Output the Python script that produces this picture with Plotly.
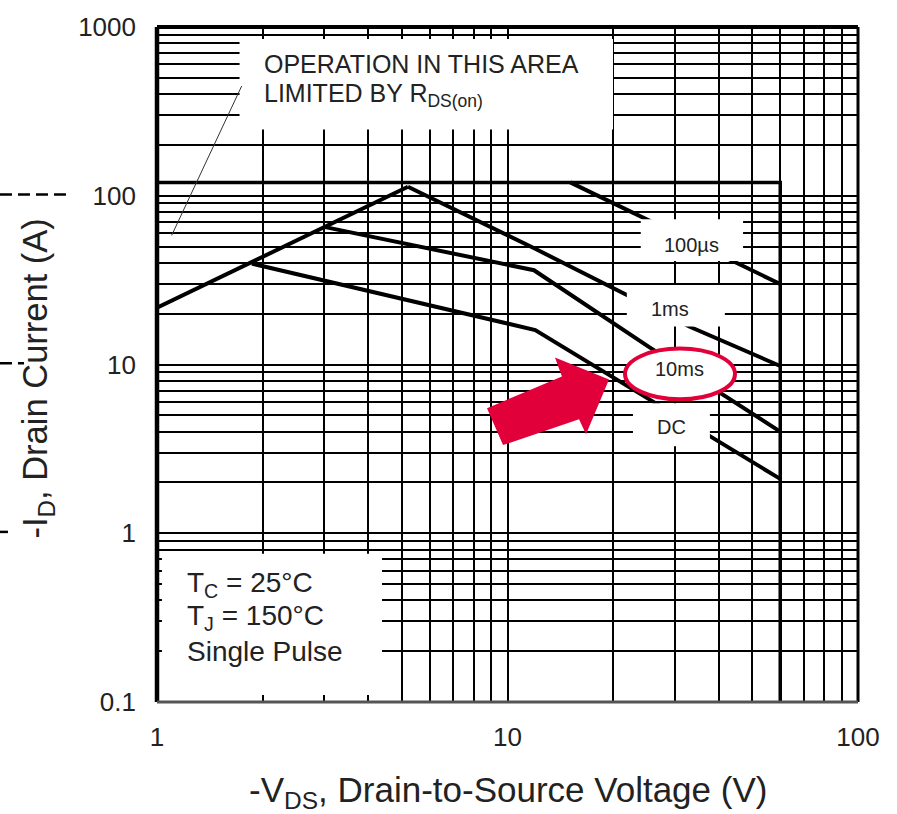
import math
import plotly.graph_objects as go

# ---- axis ticks -------------------------------------------------------
x_decades = [1, 10, 100]
y_decades = [0.1, 1, 10, 100, 1000]
x_labels = ["1", "10", "100"]
y_labels = ["0.1", "1", "10", "100", "1000"]

# ---- safe operating area boundaries (-VDS in V, -ID in A) ------------
limit_v = [1, 60, 60]          # package current limit + BVDSS
limit_i = [120, 120, 0.1]
rds_v = [1, 5.2]               # RDS(on) limited region
rds_i = [21.7, 113]
us100_v = [15.1, 60]
us100_i = [120, 30]
ms1_v = [5.2, 12, 33, 60]
ms1_i = [113, 48.5, 16.8, 9.8]
ms10_v = [3.02, 11.9, 25.5, 60]
ms10_i = [65.2, 36.2, 12.6, 4.0]
dc_v = [1.864, 12.0, 60]
dc_i = [39.6, 16.0, 2.1]

# highlight arrow pointing at the 10 ms curve
arrow_v = [8.74, 14.3, 13.66, 19.48, 16.75, 16.0, 9.71, 8.74]
arrow_i = [5.50, 8.50, 11.0, 8.16, 3.86, 4.74, 3.33, 5.50]

FONT = "Liberation Sans, Arial, sans-serif"
TXT = "#222222"
RED = "#E2003A"


def minor_ticks(decades):
    # 2..9 multiples inside every decade, for the fine log grid
    return [m * d for d in decades[:-1] for m in range(2, 10)]


fig = go.Figure()

curve = dict(color="black", width=4)
fig.add_trace(go.Scatter(x=limit_v, y=limit_i, mode="lines",
                         line=dict(color="black", width=3.5)))
for vx, iy in [(rds_v, rds_i), (us100_v, us100_i), (ms1_v, ms1_i),
               (ms10_v, ms10_i), (dc_v, dc_i)]:
    fig.add_trace(go.Scatter(x=vx, y=iy, mode="lines", line=curve))

fig.add_trace(go.Scatter(x=arrow_v, y=arrow_i, mode="lines", fill="toself",
                         fillcolor=RED, line=dict(width=0, color=RED)))

shapes = []


def white_box(x0, x1, y0, y1):
    shapes.append(dict(type="rect", xref="x", yref="y", x0=x0, x1=x1,
                       y0=y0, y1=y1, fillcolor="white",
                       line=dict(width=0), layer="above"))


# label boxes that mask the grid
white_box(1.72, 20.0, 247, 850)      # RDS(on) note
white_box(1.033, 4.385, 0.11, 0.757)  # test conditions
white_box(24.0, 47.0, 41.1, 72.6)    # 100us
white_box(21.9, 41.7, 16.8, 29.6)    # 1ms
white_box(22.8, 37.8, 3.28, 5.89)    # DC

# red ellipse around the 10 ms label
shapes.append(dict(type="circle", xref="x", yref="y", x0=21.64, x1=44.57,
                   y0=6.22, y1=12.43, fillcolor="white",
                   line=dict(color=RED, width=4), layer="above"))

# leader line from the note to the RDS(on) line
shapes.append(dict(type="line", xref="x", yref="y", x0=1.744, y0=446.7,
                   x1=1.101, y1=58.2, line=dict(color="#333333", width=1),
                   layer="above"))

# plot frame
shapes += [
    dict(type="line", xref="paper", yref="paper", x0=0, x1=0, y0=0, y1=1,
         line=dict(color="black", width=4.5), layer="above"),
    dict(type="line", xref="paper", yref="paper", x0=0, x1=1, y0=1, y1=1,
         line=dict(color="black", width=4), layer="above"),
    dict(type="line", xref="paper", yref="paper", x0=1, x1=1, y0=0, y1=1,
         line=dict(color="black", width=3), layer="above"),
    dict(type="line", xref="paper", yref="paper", x0=0, x1=1, y0=0, y1=0,
         line=dict(color="#555555", width=3), layer="above"),
]

# dashed leaders at the left edge
for y, x1 in [(0.752, -0.1212), (0.502, -0.1897), (0.252, -0.2126)]:
    shapes.append(dict(type="line", xref="paper", yref="paper",
                       x0=-0.224, x1=x1, y0=y, y1=y,
                       line=dict(color="black", width=2.5, dash="12px,6px")))

annotations = []


def note(x, y, text, size, xanchor="left", yanchor="middle"):
    annotations.append(dict(x=math.log10(x), y=math.log10(y), xref="x",
                            yref="y", text=text, showarrow=False,
                            xanchor=xanchor, yanchor=yanchor,
                            font=dict(family=FONT, size=size, color=TXT)))


note(1.99, 605, "OPERATION IN THIS AREA", 25)
note(1.99, 394.5, "LIMITED BY R<sub>DS(on)</sub>", 25)
note(1.202, 0.497, "T<sub>C</sub> = 25°C", 28)
note(1.202, 0.317, "T<sub>J</sub> = 150°C", 28)
note(1.202, 0.2, "Single Pulse", 28)
note(33.5, 51, "100µs", 20, xanchor="center")
note(29.1, 21.3, "1ms", 20, xanchor="center")
note(31.05, 9.45, "10ms", 20, xanchor="center")
note(29.3, 4.25, "DC", 20, xanchor="center")

# axis titles
annotations.append(dict(x=0.5, y=-0.134, xref="paper", yref="paper",
                        text="-V<sub>DS</sub>, Drain-to-Source Voltage (V)",
                        showarrow=False, xanchor="center", yanchor="middle",
                        font=dict(family=FONT, size=35, color=TXT)))
annotations.append(dict(x=-0.1705, y=0.48, xref="paper", yref="paper",
                        text="-I<sub>D</sub>, Drain Current (A)",
                        textangle=-90, showarrow=False, xanchor="center",
                        yanchor="middle",
                        font=dict(family=FONT, size=34.5, color=TXT)))

grid = dict(showgrid=True, gridcolor="black", gridwidth=2.3, ticks="")
axis_common = dict(type="log", ticks="", showline=False, zeroline=False,
                   showgrid=True, gridcolor="black", gridwidth=2.3,
                   tickfont=dict(family=FONT, size=26, color=TXT),
                   fixedrange=True)

fig.update_layout(
    width=897, height=814,
    margin=dict(l=157, r=39, t=24, b=112),
    paper_bgcolor="white", plot_bgcolor="white",
    showlegend=False,
    shapes=shapes, annotations=annotations,
    xaxis=dict(axis_common, range=[0, 2], tickvals=x_decades,
               ticktext=x_labels, ticklabelstandoff=17,
               minor=dict(grid, tickvals=minor_ticks(x_decades))),
    yaxis=dict(axis_common, range=[-1, 3], tickvals=y_decades,
               ticktext=y_labels, ticklabelstandoff=20,
               minor=dict(grid, tickvals=minor_ticks(y_decades))),
)

fig.write_html("out.html")
